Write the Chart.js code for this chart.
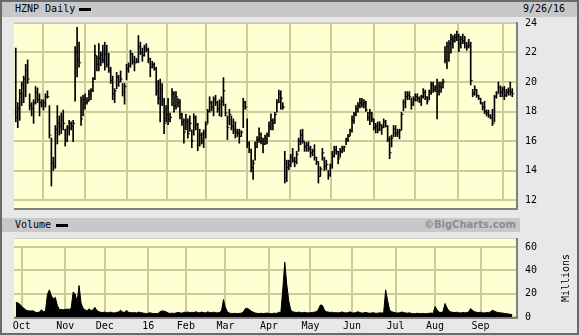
<!DOCTYPE html>
<html>
<head>
<meta charset="utf-8">
<script src="https://cdn.jsdelivr.net/npm/chart.js@4.4.1/dist/chart.umd.min.js"></script>
<style>
  html,body{margin:0;padding:0;background:#e8e8e8;}
  #wrap{position:relative;width:579px;height:335px;overflow:hidden;background:#e8e8e8;
        font-family:"DejaVu Sans Mono",monospace;font-size:10px;color:#000;}
  .abs{position:absolute;}
  .bar{background:#c8c8c8;}
  .plotbg{background:#ffffd4;}
  .txt{position:absolute;white-space:nowrap;line-height:12px;}
  canvas{position:absolute;}
</style>
</head>
<body>
<div id="wrap">
  <div class="abs bar" style="left:0;top:0;width:579px;height:17px;"></div>
  <div class="txt" style="left:15px;top:3px;">HZNP Daily</div>
  <div class="abs" style="left:79px;top:8px;width:12px;height:3px;background:#000;"></div>
  <div class="txt" style="left:523px;top:3px;">9/26/16</div>

  <div class="abs plotbg" style="left:14px;top:23px;width:502px;height:185px;"></div>

  <div class="abs bar" style="left:0;top:218px;width:520px;height:14px;"></div>
  <div class="txt" style="left:15px;top:219px;">Volume</div>
  <div class="abs" style="left:56px;top:224px;width:12px;height:3px;background:#000;"></div>
  <div class="txt" style="right:63px;top:219px;font-family:'DejaVu Sans',sans-serif;font-weight:bold;font-size:10px;color:#8c8c8c;">©BigCharts.com</div>

  <div class="abs plotbg" style="left:14px;top:239px;width:502px;height:78px;"></div>

  <canvas id="price" width="579" height="215" style="left:0;top:0;width:579px;height:215px;"></canvas>
  <canvas id="vol" width="579" height="103" style="left:0;top:232px;width:579px;height:103px;"></canvas>

  <div class="abs" style="left:14px;top:208px;width:504px;height:2px;background:#808080;"></div>
  <div class="abs" style="left:516px;top:22px;width:2px;height:188px;background:#808080;"></div>
  <div class="abs" style="left:14px;top:22px;width:502px;height:1px;background:#d0d0c0;"></div>
  <div class="abs" style="left:14px;top:317px;width:504px;height:2px;background:#808080;"></div>
  <div class="abs" style="left:516px;top:238px;width:2px;height:81px;background:#808080;"></div>
  <div class="abs" style="left:14px;top:238px;width:502px;height:1px;background:#d0d0c0;"></div>

  <div class="txt" style="left:566px;top:278px;transform:translate(-50%,-50%) rotate(-90deg);">Millions</div>

  <div class="abs" style="left:0;top:0;width:579px;height:335px;box-sizing:border-box;border:2px solid #6a6a6a;"></div>
</div>
<script>
const highs = [
22.3,18.6,19.5,20.0,20.4,21.2,21.5,19.2,18.6,18.8,19.7,19.6,19.2,18.8,18.8,19.2,19.4,18.4,16.2,14.9,
17.05,18.4,17.7,17.9,18.1,16.8,17.05,17.4,17.3,17.4,22.4,23.7,22.7,19.0,19.1,19.2,18.95,19.45,19.55,20.3,
22.5,21.75,22.6,22.05,22.5,22.7,22.5,21.95,21.0,20.4,19.55,20.65,20.45,20.75,19.9,19.9,21.2,21.3,22.15,21.95,
21.75,21.6,23.15,22.7,22.3,22.5,22.6,22.3,21.6,21.4,21.3,21.0,20.1,20.2,19.9,18.9,18.4,18.9,17.9,19.55,
19.35,19.35,18.9,18.8,17.9,17.5,17.8,17.5,17.7,16.75,17.85,17.7,17.2,16.8,16.55,16.75,17.3,18.15,19.0,18.7,
19.0,19.1,18.7,18.8,19.0,20.3,18.5,17.7,18.15,17.7,17.5,17.3,16.8,16.8,16.7,18.9,18.7,17.5,15.95,15.45,
14.7,15.95,16.3,16.9,16.55,16.2,16.4,16.55,17.3,17.85,17.5,17.95,18.8,19.45,19.4,18.6,15.3,14.7,14.7,15.1,
15.5,14.9,15.3,16.2,16.75,16.8,15.95,15.9,15.95,15.65,15.45,15.75,14.9,14.6,14.25,15.5,14.9,14.7,14.0,14.45,
15.3,15.65,15.65,15.3,15.5,15.65,15.65,16.2,16.45,16.8,17.7,17.95,18.4,18.6,18.9,18.9,18.8,18.7,17.95,18.15,
17.95,17.5,17.2,17.3,17.3,17.1,17.5,17.4,17.05,16.3,16.4,17.05,17.05,16.8,16.8,17.95,18.8,19.35,19.35,19.35,
18.9,19.0,19.2,19.2,19.0,19.1,19.55,19.45,19.0,19.45,20.0,20.0,19.75,20.2,20.0,20.0,20.2,22.4,22.7,22.8,
23.25,23.15,23.25,23.45,23.25,23.1,23.25,23.1,22.7,22.9,22.7,19.5,19.75,19.5,19.1,18.9,18.6,18.7,18.1,18.1,
17.8,18.15,19.1,19.35,20.0,19.75,19.65,19.7,19.5,19.6,20.0,19.55
];
const lows = [
17.3,16.9,17.4,18.4,18.6,19.0,19.9,18.1,17.7,17.2,18.5,18.6,17.7,18.3,18.1,18.3,18.9,16.2,12.95,14.0,
14.15,15.8,16.4,16.5,16.75,15.65,15.95,16.4,16.75,15.95,18.7,20.35,21.0,17.05,17.7,18.15,18.5,18.7,18.8,19.35,
20.15,20.75,20.75,21.1,21.3,20.8,21.0,20.65,19.9,18.8,18.6,19.55,19.7,20.0,19.05,18.5,20.15,20.65,21.0,21.2,
20.75,21.3,21.3,21.85,21.4,21.75,22.05,21.3,20.35,20.95,20.8,19.1,18.5,17.3,18.4,16.5,17.3,17.1,17.3,18.4,
17.95,18.15,18.3,17.5,17.05,15.85,16.75,16.2,16.65,15.55,16.4,16.75,15.35,15.65,15.8,15.55,16.2,17.2,17.95,18.05,
17.7,18.4,17.95,17.7,17.65,18.4,17.7,16.1,17.1,16.75,16.5,16.2,16.3,15.85,16.3,16.9,18.15,15.55,15.2,13.9,
13.4,14.7,15.55,15.9,15.8,15.2,15.75,15.8,16.3,16.75,16.75,17.2,17.95,18.6,18.15,18.15,13.15,13.25,14.05,14.25,
14.55,14.25,14.45,15.3,15.75,15.85,15.3,15.3,15.3,14.9,15.0,14.7,14.4,13.15,13.6,14.7,14.0,14.05,13.4,13.6,
14.15,14.9,15.1,14.45,14.9,15.2,15.3,15.75,15.95,16.35,16.6,17.2,17.7,17.95,18.25,18.3,18.25,18.0,17.4,17.1,
17.3,16.75,16.55,16.55,16.7,16.45,16.9,16.95,15.95,14.8,15.6,16.3,16.3,16.3,16.15,16.75,18.05,18.25,18.8,18.8,
18.15,18.4,18.7,18.7,18.6,18.4,18.9,18.8,18.5,18.8,19.15,19.3,19.35,17.5,19.1,19.3,19.6,21.3,20.9,21.4,
21.95,22.3,22.7,22.8,22.05,22.3,22.6,22.3,22.15,22.3,19.8,19.0,19.1,18.95,18.8,18.5,18.1,17.85,17.7,17.6,
17.5,17.05,17.3,18.9,19.25,19.0,19.0,18.8,19.0,19.1,19.1,19.0
];
const closes = [
17.6,18.2,19.2,19.8,20.2,20.8,20.2,18.4,18.2,18.6,19.3,18.8,18.6,18.5,18.6,19.0,19.0,16.4,14.5,14.3,
16.8,17.2,17.0,17.4,17.2,16.0,16.9,17.2,17.0,17.2,22.0,21.5,21.3,17.5,18.8,18.6,18.7,19.2,19.4,20.2,
21.8,21.2,21.6,21.8,21.5,21.9,21.2,20.8,20.1,19.2,19.4,20.3,20.0,20.2,19.3,19.7,20.9,21.1,21.9,21.4,
21.3,21.4,22.4,22.0,21.8,22.3,22.2,21.6,21.0,21.2,20.9,19.4,18.9,19.5,18.7,17.2,17.8,17.5,17.6,19.2,
18.4,19.0,18.6,17.8,17.3,16.6,17.3,16.5,17.2,16.0,17.6,17.1,15.7,16.4,16.0,16.5,17.1,18.0,18.6,18.3,
18.8,18.6,18.2,18.5,18.7,19.4,17.9,16.9,17.8,17.0,16.8,16.6,16.5,16.3,16.6,18.6,18.3,15.8,15.4,14.2,
14.5,15.6,16.1,16.2,16.0,15.8,16.2,16.4,17.0,17.4,17.2,17.8,18.6,19.2,18.9,18.3,13.5,14.2,14.4,14.9,
14.7,14.6,15.1,16.0,16.4,16.0,15.6,15.7,15.5,15.2,15.3,14.9,14.6,13.6,14.1,15.2,14.3,14.4,13.7,14.3,
15.0,15.4,15.3,14.8,15.3,15.5,15.6,16.1,16.3,16.7,17.4,17.8,18.2,18.4,18.6,18.5,18.6,18.1,17.6,17.9,
17.5,16.9,17.0,16.8,17.1,16.9,17.3,17.0,16.1,15.2,16.2,16.8,16.5,16.6,16.7,17.8,18.6,19.0,19.1,19.0,
18.5,18.8,19.0,18.9,18.7,19.0,19.3,19.0,18.7,19.3,19.8,19.5,19.6,19.4,19.7,19.6,20.0,21.5,22.4,22.6,
22.9,22.8,23.0,23.1,22.6,22.9,22.8,22.6,22.4,22.5,20.1,19.2,19.5,19.1,18.9,18.6,18.3,18.0,17.9,17.7,
17.6,17.2,19.0,19.2,19.6,19.3,19.5,19.1,19.3,19.4,19.3,19.2
];
const volumes = [
12.4,12.2,11,9,7.7,6,5.4,5.2,5.2,5.2,4,3.8,4.2,6.2,4.5,5,19.4,23.3,18,15.5,
16.8,10,6.5,6.5,6.2,6.5,6.8,6.5,7.5,21.4,19.9,13,27,12,7.5,6.2,5.2,7,5.5,6,
8.3,5.5,4.5,4,3.8,4.2,3.6,3.9,4.1,3.7,3.5,4.0,4.3,5.7,4.2,4.0,5.7,4.1,3.8,3.6,
3.9,3.4,4.2,3.8,3.5,3.2,2.8,3.3,3.6,3.1,3.0,2.9,3.1,4.6,5.2,5.0,4.4,3.4,3.1,3.3,
3.0,3.5,3.9,3.6,3.2,4.1,3.9,4.3,3.7,4.0,3.8,4.5,3.9,3.6,4.2,3.8,3.5,4.4,3.9,3.7,
4.1,3.8,3.5,3.9,5.2,15,8,4.5,3.3,3.1,3.0,3.2,2.9,3.1,3.3,4.2,7,7.5,6.5,5,
4.2,3.4,3.1,3.0,3.2,2.9,3.1,3.4,3.0,2.8,3.1,3.3,3.0,4.2,3.5,24,47,28,14,6,
4.5,4.1,3.8,4.2,3.9,3.6,4.0,3.7,3.5,3.8,3.9,4.2,4.5,6.5,10.3,10,6,4.5,4.2,3.9,
4.1,3.6,3.8,3.5,3.9,4.3,3.7,3.5,3.8,4.4,3.6,3.4,3.9,4.5,3.8,3.3,3.6,4.0,3.4,3.2,
3.5,3.7,3.1,3.3,3.6,3.4,3.9,23.3,14,6,4.6,4.0,3.7,3.4,3.6,4.2,3.9,3.5,3.3,3.6,
3.1,3.0,2.8,3.2,3.0,2.9,3.1,2.8,3.0,3.2,3.4,3.1,9,6,4.2,3.8,4.5,11.6,8,5.2,
4.3,4.0,3.8,4.1,3.7,3.5,3.9,3.6,3.8,4.4,7.2,5.5,4.5,4.0,3.8,4.1,3.6,3.5,3.9,3.7,
4.4,5.7,5.0,4.2,3.8,3.6,3.4,3.1,2.9,2.6,2.3,2.0
];
const monthTickIdx = [3,25,45,67,86,106,128,149,170,192,212,235];
const monthLabels = ['Oct','Nov','Dec','16','Feb','Mar','Apr','May','Jun','Jul','Aug','Sep'];
const priceTicks = [12,14,16,18,20,22,24];
const volTicks = [0,20,40,60];

const GRID = 'rgb(204,204,153)';
const FONT = {family:'DejaVu Sans Mono', size:10};
const XMIN = -0.9, XMAX = 252.9;

const xAxisBase = (showLabels) => ({
  type:'linear', min:XMIN, max:XMAX, offset:false,
  afterBuildTicks: s => { s.ticks = monthTickIdx.map(v => ({value:v})); },
  grid:{color:GRID, lineWidth:2, drawTicks:false},
  border:{display:false},
  ticks:{display:showLabels, autoSkip:false, maxRotation:0, padding:3, color:'#000', font:FONT,
         callback: v => { const k = monthTickIdx.indexOf(v); return k >= 0 ? monthLabels[k] : ''; }},
  afterFit: s => { s.height = showLabels ? 18 : 0; }
});

new Chart(document.getElementById('price'), {
  type:'bar',
  data:{ datasets:[
    { type:'bar', data: highs.map((h,i) => ({x:i, y:[lows[i], h]})),
      backgroundColor:'#000', borderWidth:0, barThickness:1, grouped:false },
    { type:'line', data: closes.map((c,i) => ({x:i+0.5, y:c})), showLine:false,
      pointStyle:'line', pointRadius:1, pointBorderWidth:1, pointBorderColor:'#000', borderColor:'#000' }
  ]},
  options:{
    responsive:false, animation:false, events:[],
    layout:{padding:{left:14, top:23, right:0, bottom:7}},
    plugins:{legend:{display:false}, tooltip:{enabled:false}},
    scales:{
      x: xAxisBase(false),
      y:{ position:'right', min:12, max:24,
          afterBuildTicks: s => { s.ticks = priceTicks.map(v => ({value:v})); },
          grid:{color:GRID, lineWidth:2, drawTicks:false}, border:{display:false},
          ticks:{padding:9, color:'#000', font:FONT},
          afterFit: s => { s.width = 63; } }
    }
  }
});

new Chart(document.getElementById('vol'), {
  type:'line',
  data:{ datasets:[
    { data: volumes.map((v,i) => ({x:i, y:v})), fill:'origin', backgroundColor:'#000',
      borderColor:'#000', borderWidth:1, pointRadius:0, tension:0 }
  ]},
  options:{
    responsive:false, animation:false, events:[],
    layout:{padding:{left:14, top:7, right:0, bottom:0}},
    plugins:{legend:{display:false}, tooltip:{enabled:false}},
    scales:{
      x: xAxisBase(true),
      y:{ position:'right', min:0, max:60,
          afterBuildTicks: s => { s.ticks = volTicks.map(v => ({value:v})); },
          grid:{color:GRID, lineWidth:2, drawTicks:false}, border:{display:false},
          ticks:{padding:9, color:'#000', font:FONT},
          afterFit: s => { s.width = 63; } }
    }
  }
});
</script>
</body>
</html>
